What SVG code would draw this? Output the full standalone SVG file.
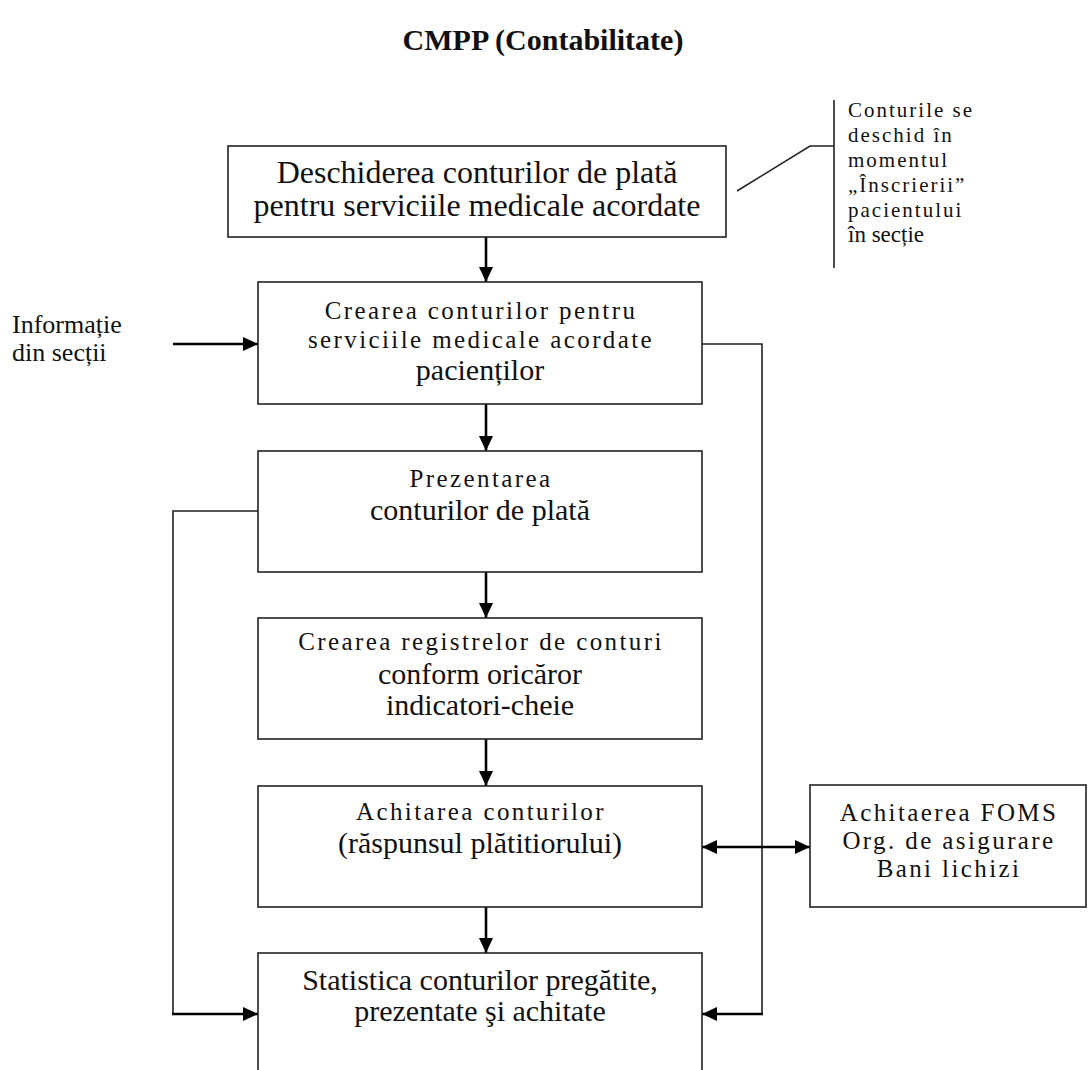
<svg xmlns="http://www.w3.org/2000/svg" width="1088" height="1070" viewBox="0 0 1088 1070">
<style>
.box{fill:#fff;stroke:#222;stroke-width:1.6}
.t{font-family:"Liberation Serif","Times New Roman",serif;fill:#111;text-anchor:middle}
.n{font-size:30px}
.s{font-size:25px;letter-spacing:2.4px}
.a{font-size:21px;letter-spacing:2px;text-anchor:start}
.ln{fill:none;stroke:#222;stroke-width:1.6}
.ar{fill:none;stroke:#000;stroke-width:2.6}
</style>
<defs>
<marker id="ah" viewBox="0 0 15 14" refX="15" refY="7" markerWidth="15" markerHeight="14" orient="auto-start-reverse" markerUnits="userSpaceOnUse"><path d="M0,0 L15,7 L0,14 z" fill="#000"/></marker>
</defs>
<rect width="1088" height="1070" fill="#fff"/>
<text class="t" x="543" y="50" style="font-size:30px;font-weight:bold">CMPP (Contabilitate)</text>

<g id="connectors">
<line class="ar" x1="486" y1="237" x2="486" y2="282" marker-end="url(#ah)"/>
<line class="ar" x1="486" y1="404" x2="486" y2="451" marker-end="url(#ah)"/>
<line class="ar" x1="486" y1="572" x2="486" y2="618" marker-end="url(#ah)"/>
<line class="ar" x1="486" y1="739" x2="486" y2="786" marker-end="url(#ah)"/>
<line class="ar" x1="486" y1="907" x2="486" y2="953" marker-end="url(#ah)"/>
<line class="ar" x1="173" y1="344" x2="258" y2="344" marker-end="url(#ah)"/>
<path class="ln" d="M258,511 H173 V1014"/>
<line class="ar" x1="172" y1="1014" x2="258" y2="1014" marker-end="url(#ah)"/>
<path class="ln" d="M702,344 H762 V1014"/>
<line class="ar" x1="763" y1="1014" x2="702" y2="1014" marker-end="url(#ah)"/>
<line class="ar" x1="702" y1="847" x2="810" y2="847" marker-start="url(#ah)" marker-end="url(#ah)"/>
<path class="ln" d="M737,191 L810,146 H834"/>
<line class="ln" x1="834" y1="100" x2="834" y2="268"/>
</g>

<g id="note">
<text class="t a" x="848" y="117">Conturile se</text>
<text class="t a" x="848" y="142">deschid în</text>
<text class="t a" x="848" y="167">momentul</text>
<text class="t a" x="848" y="192">„Înscrierii”</text>
<text class="t a" x="848" y="217">pacientului</text>
<text class="t" x="848" y="242" style="font-size:23px;text-anchor:start">în secție</text>
</g>

<g id="input">
<text class="t" x="12" y="333" style="font-size:26px;text-anchor:start">Informație</text>
<text class="t" x="12" y="361" style="font-size:26px;text-anchor:start">din secții</text>
</g>

<g id="n1">
<rect class="box" x="228" y="146" width="498" height="91"/>
<text class="t" x="477" y="183" style="font-size:32px">Deschiderea conturilor de plată</text>
<text class="t" x="477" y="216" style="font-size:32px">pentru serviciile medicale acordate</text>
</g>

<g id="n2">
<rect class="box" x="258" y="282" width="444" height="122"/>
<text class="t s" x="481" y="319">Crearea conturilor pentru</text>
<text class="t s" x="481" y="348">serviciile medicale acordate</text>
<text class="t n" x="480" y="380">pacienților</text>
</g>

<g id="n3">
<rect class="box" x="258" y="451" width="444" height="121"/>
<text class="t s" x="481" y="487">Prezentarea</text>
<text class="t n" x="480" y="520">conturilor de plată</text>
</g>

<g id="n4">
<rect class="box" x="258" y="618" width="444" height="121"/>
<text class="t s" x="481" y="650">Crearea registrelor de conturi</text>
<text class="t n" x="480" y="684">conform oricăror</text>
<text class="t n" x="480" y="715">indicatori-cheie</text>
</g>

<g id="n5">
<rect class="box" x="258" y="786" width="444" height="121"/>
<text class="t s" x="481" y="820">Achitarea conturilor</text>
<text class="t n" x="480" y="853">(răspunsul plătitiorului)</text>
</g>

<g id="n6">
<rect class="box" x="810" y="785" width="276" height="122"/>
<text class="t s" x="949" y="821">Achitaerea FOMS</text>
<text class="t s" x="949" y="849">Org. de asigurare</text>
<text class="t s" x="949" y="877">Bani lichizi</text>
</g>

<g id="n7">
<rect class="box" x="258" y="953" width="444" height="140"/>
<text class="t n" x="480" y="990">Statistica conturilor pregătite,</text>
<text class="t n" x="480" y="1021">prezentate şi achitate</text>
</g>
</svg>
